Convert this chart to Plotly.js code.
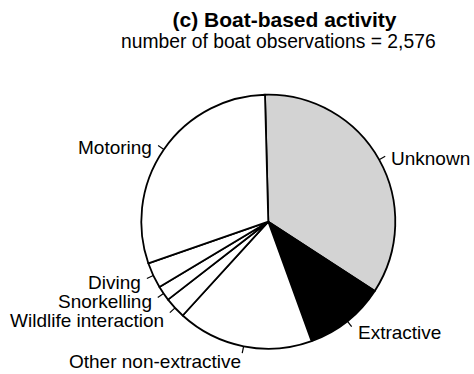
<!DOCTYPE html>
<html><head><meta charset="utf-8">
<script src="https://cdn.plot.ly/plotly-3.0.1.min.js"></script>
<style>html,body{margin:0;padding:0;background:#fff}</style>
</head><body><div id="chart" style="width:474px;height:374px"></div>
<script>
// ---- data ----
const labels = ['Unknown', 'Extractive', 'Other non-extractive', 'Wildlife interaction', 'Snorkelling', 'Diving', 'Motoring'];
const counts = [891, 265, 446, 70, 49, 85, 770];
const titleText = '(c) Boat-based activity';
const subtitleText = 'number of boat observations = 2,576';

// ---- styles / geometry ----
const sliceColors = ['#d3d3d3', '#000000', '#ffffff', '#ffffff', '#ffffff', '#ffffff', '#ffffff'];
const W = 474, H = 374;
const cx = 268.3, cy = 221.7, R = 127;
const startDeg = -1.5;
const FONT = 'Liberation Sans, Arial, sans-serif';

const domX = [(cx - R) / W, (cx + R) / W];
const domY = [1 - (cy + R) / H, 1 - (cy - R) / H];

const total = counts.reduce((a, b) => a + b, 0);
let acc = 0;
const shapes = [], annotations = [], lab = [];
counts.forEach((v, i) => {
  const mid = (startDeg + 360 * (acc + v / 2) / total) * Math.PI / 180;
  acc += v;
  const s = Math.sin(mid), c = Math.cos(mid);
  const x0 = cx + R * s, y0 = cy - R * c;
  const x1 = cx + (R + 7) * s, y1 = cy - (R + 7) * c;
  shapes.push({type: 'line', xref: 'paper', yref: 'paper',
    x0: x0 / W, y0: 1 - y0 / H, x1: x1 / W, y1: 1 - y1 / H,
    line: {color: '#000', width: 1.2}});
  const lower = c < 0;
  const nearBottom = Math.abs(s) < 0.3;
  lab.push({i: i, s: s, x: x1 + (nearBottom ? 0 : (s < 0 ? -5 : 5)),
    y: y1 + (nearBottom ? 8 : (lower ? 5.5 : 2))});
});
// spread crowded labels on the left side around their natural positions
const GAP = 19;
const left = lab.filter(d => d.s < 0 && Math.abs(d.s) >= 0.3 && d.y > cy).sort((a, b) => a.y - b.y);
const natural = left.map(d => d.y);
for (let k = 1; k < left.length; k++) {
  if (left[k].y - left[k - 1].y < GAP) left[k].y = left[k - 1].y + GAP;
}
const meanShift = left.reduce((a, d, k) => a + (d.y - natural[k]), 0) / (left.length || 1);
left.forEach(d => { d.y -= meanShift; });

lab.forEach(d => {
  annotations.push({
    text: labels[d.i], xref: 'paper', yref: 'paper',
    x: d.x / W, y: 1 - d.y / H,
    xanchor: d.s < 0 ? 'right' : 'left', yanchor: 'middle',
    showarrow: false, borderpad: 0,
    font: {family: FONT, size: 19, color: '#000'}
  });
});

annotations.push({
  text: subtitleText, xref: 'paper', yref: 'paper',
  x: 278.5 / W, y: 1 - 41 / H, xanchor: 'center', yanchor: 'middle',
  showarrow: false, borderpad: 0, font: {family: FONT, size: 19.3, color: '#000'}
});

const trace = {
  type: 'pie',
  labels: labels,
  values: counts,
  sort: false,
  direction: 'clockwise',
  rotation: startDeg,
  textinfo: 'none',
  hoverinfo: 'label+value+percent',
  marker: {colors: sliceColors, line: {color: '#000', width: 1.8}},
  domain: {x: domX, y: domY},
  showlegend: false
};

const layout = {
  width: W, height: H,
  margin: {l: 0, r: 0, t: 0, b: 0},
  paper_bgcolor: '#fff',
  plot_bgcolor: '#fff',
  title: {text: '<b>' + titleText + '</b>', font: {family: FONT, size: 21, color: '#000'},
    x: 284.5 / W, xanchor: 'center', xref: 'paper', yref: 'container', y: 1 - 19.5 / H, yanchor: 'middle'},
  shapes: shapes,
  annotations: annotations,
  showlegend: false
};

Plotly.newPlot('chart', [trace], layout, {displayModeBar: false, staticPlot: true});
</script>
</body></html>
